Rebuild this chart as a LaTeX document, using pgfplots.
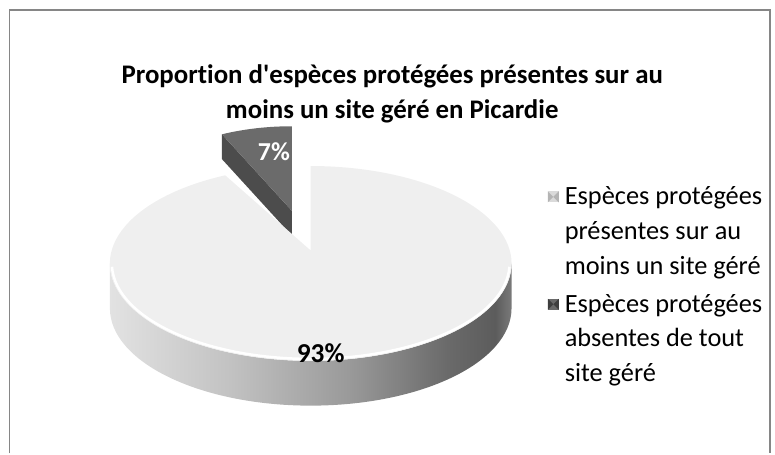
\documentclass[border=0pt]{standalone}
\usepackage{pgfplots}
\pgfplotsset{compat=1.18}
\usepackage{pgfplotstable}
\usepackage{fontspec}
\setmainfont{Carlito}[Ligatures={TeXOff,CommonOff}]
\definecolor{framec}{HTML}{868686}
\definecolor{topc}{HTML}{EFEFEF}
\definecolor{smalltop}{HTML}{6B6B6B}
\definecolor{smallcut}{HTML}{4C4C4C}
\definecolor{sA}{HTML}{E2E2E2}
\definecolor{sB}{HTML}{C2C2C2}
\definecolor{sC}{HTML}{999999}
\definecolor{sD}{HTML}{6A6A6A}
\definecolor{sE}{HTML}{5C5C5C}
\definecolor{sF}{HTML}{7A7A7A}
\definecolor{legA}{HTML}{DADADA}
\definecolor{legAd}{HTML}{B4B4B4}
\definecolor{legB}{HTML}{6A6A6A}
\definecolor{legBd}{HTML}{3E3E3E}
\pgfdeclarehorizontalshading{pieside}{100bp}{color(0bp)=(sA); color(25bp)=(sA); color(40bp)=(sB); color(55bp)=(sC); color(67bp)=(sD); color(73bp)=(sE); color(75bp)=(sF); color(100bp)=(sF)}
\pgfplotstableread{
cat value
present 93
absent 7
}\piedata
\begin{document}
\pgfplotstablegetelem{1}{value}\of\piedata
\pgfmathsetmacro{\asmall}{\pgfplotsretval*3.6}
\pgfmathsetmacro{\aend}{90+\asmall}
\begin{tikzpicture}
\begin{axis}[x=1pt,y=1pt,xmin=0,xmax=775,ymin=0,ymax=456,hide axis,clip=false]
\path (axis cs:0,0) rectangle (axis cs:775,456);
% frame
\draw[framec,line width=1.5pt] (axis cs:5,0) -- (axis cs:5,446) -- (axis cs:770,446) -- (axis cs:770,0);
% title
\node[font=\fontsize{27}{35}\selectfont\bfseries,align=center] at (axis cs:390,361.5)
  {Proportion d'espèces protégées présentes sur au\\moins un site géré en Picardie};
% small exploded slice (7%)
\fill[smallcut] (axis cs:289,244) -- ([shift={(\aend:165pt and 85pt)}]axis cs:289,244)
  -- ++(0,-25pt) -- (axis cs:289,219) -- cycle;
\fill[smalltop] (axis cs:289,244) -- ([shift={(\aend:165pt and 85pt)}]axis cs:289,244)
  arc[start angle=\aend,end angle=90,x radius=165pt,y radius=85pt] -- cycle;
% main slice side
\shade[shading=pieside] ([shift={(180:202pt and 98pt)}]axis cs:308,191)
  arc[start angle=180,end angle=360,x radius=202pt,y radius=98pt] -- ++(0,-45pt)
  arc[start angle=360,end angle=180,x radius=202pt,y radius=98pt] -- cycle;
% main slice top
\fill[topc] (axis cs:308,204) -- ([shift={(\aend:202pt and 98pt)}]axis cs:308,191)
  arc[start angle=\aend,end angle=450,x radius=202pt,y radius=98pt] -- cycle;
\draw[white,line width=2.5pt] ([shift={(182:200pt and 96pt)}]axis cs:308,191)
  arc[start angle=182,end angle=358,x radius=200pt,y radius=96pt];
% labels
\node[font=\fontsize{26}{30}\selectfont\bfseries,white] at (axis cs:271,303) {7\%};
\node[font=\fontsize{27.5}{30}\selectfont\bfseries] at (axis cs:318,101) {93\%};
% legend
\fill[legA] (axis cs:546.5,252.5) rectangle (axis cs:557.5,263.5);
\fill[legAd] (axis cs:546.5,252.5) -- (axis cs:552,258) -- (axis cs:546.5,263.5) -- cycle;
\fill[legAd] (axis cs:557.5,252.5) -- (axis cs:552,258) -- (axis cs:557.5,263.5) -- cycle;
\node[anchor=base west,align=left,font=\fontsize{26.5}{35}\selectfont] at (axis cs:560,180)
  {Espèces protégées\\présentes sur au\\moins un site géré};
\fill[legB] (axis cs:546.5,144.5) rectangle (axis cs:557.5,155.5);
\fill[legBd] (axis cs:546.5,144.5) -- (axis cs:552,150) -- (axis cs:546.5,155.5) -- cycle;
\fill[legBd] (axis cs:557.5,144.5) -- (axis cs:552,150) -- (axis cs:557.5,155.5) -- cycle;
\node[anchor=base west,align=left,font=\fontsize{26.5}{35}\selectfont] at (axis cs:560,72)
  {Espèces protégées\\absentes de tout\\site géré};
\end{axis}
\end{tikzpicture}
\end{document}
